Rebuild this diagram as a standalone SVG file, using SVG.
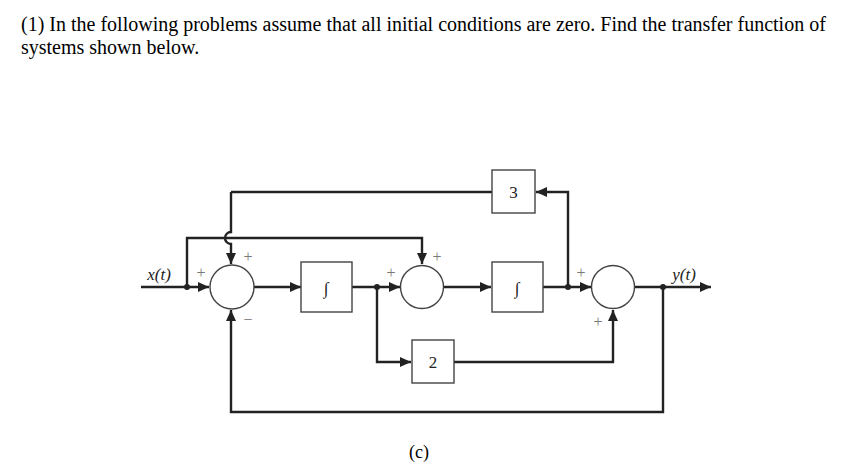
<svg xmlns="http://www.w3.org/2000/svg" width="852" height="466" viewBox="0 0 852 466">
<defs>
<marker id="ah" markerUnits="userSpaceOnUse" markerWidth="12" markerHeight="10" refX="11" refY="5" orient="auto">
<path d="M0,0 L11,5 L0,10 z" fill="#222"/>
</marker>
<style>
.w{fill:none;stroke:#222;stroke-width:2.4}
.blk{fill:#fff;stroke:#444;stroke-width:1.4}
.t{font-family:"Liberation Serif",serif;fill:#000}
.g{font-family:"Liberation Serif",serif;fill:#777;font-size:16px;text-anchor:middle}
.lbl{font-family:"Liberation Serif",serif;fill:#222;font-size:17px;text-anchor:middle}
</style>
</defs>
<rect width="852" height="466" fill="#fff"/>
<text class="t" x="21" y="31" font-size="20">(1) In the following problems assume that all initial conditions are zero. Find the transfer function of</text>
<text class="t" x="21" y="54" font-size="20">systems shown below.</text>

<g id="connectors">
<path class="w" d="M141,287 H209" marker-end="url(#ah)"/>
<path class="w" d="M187,287 V238 H422 V264" marker-end="url(#ah)"/>
<path class="w" d="M231,192 H492"/>
<path class="w" d="M231,192 V232 A6,6 0 0 0 231,244 V264" marker-end="url(#ah)"/>
<path class="w" d="M254,287 H301" marker-end="url(#ah)"/>
<path class="w" d="M352,287 H400" marker-end="url(#ah)"/>
<path class="w" d="M377,287 V362 H411" marker-end="url(#ah)"/>
<path class="w" d="M443,287 H491" marker-end="url(#ah)"/>
<path class="w" d="M543,287 H591" marker-end="url(#ah)"/>
<path class="w" d="M568,287 V192 H536" marker-end="url(#ah)"/>
<path class="w" d="M635,287 H711" marker-end="url(#ah)"/>
<path class="w" d="M663,287 V412 H231 V310" marker-end="url(#ah)"/>
<path class="w" d="M454,362 H613 V310" marker-end="url(#ah)"/>
<circle cx="187" cy="287" r="3" fill="#222"/>
<circle cx="377" cy="287" r="3" fill="#222"/>
<circle cx="568" cy="287" r="3" fill="#222"/>
<circle cx="663" cy="287" r="3" fill="#222"/>
</g>

<g id="sum1">
<circle class="blk" cx="232" cy="287" r="22"/>
<text class="g" x="201" y="278">+</text>
<text class="g" x="248" y="262">+</text>
<text class="g" x="248" y="325">−</text>
</g>
<g id="integrator1">
<rect class="blk" x="301" y="262" width="51" height="50"/>
<text class="lbl" x="326" y="294" font-style="italic" font-size="17">∫</text>
</g>
<g id="sum2">
<circle class="blk" cx="422" cy="287" r="21.5"/>
<text class="g" x="391" y="278">+</text>
<text class="g" x="437" y="262">+</text>
</g>
<g id="integrator2">
<rect class="blk" x="492" y="262" width="51" height="50"/>
<text class="lbl" x="517" y="294" font-style="italic" font-size="17">∫</text>
</g>
<g id="gain3">
<rect class="blk" x="492" y="170" width="43" height="43"/>
<text class="lbl" x="513.5" y="198">3</text>
</g>
<g id="gain2">
<rect class="blk" x="412" y="340" width="42" height="43"/>
<text class="lbl" x="433" y="368">2</text>
</g>
<g id="sum3">
<circle class="blk" cx="613" cy="287" r="21.5"/>
<text class="g" x="581" y="278">+</text>
<text class="g" x="598" y="327">+</text>
</g>
<g id="labels">
<text class="lbl" x="159" y="280" font-style="italic">x(t)</text>
<text class="lbl" x="684" y="280" font-style="italic">y(t)</text>
<text class="t" x="419" y="458" font-size="18" text-anchor="middle">(c)</text>
</g>
</svg>
